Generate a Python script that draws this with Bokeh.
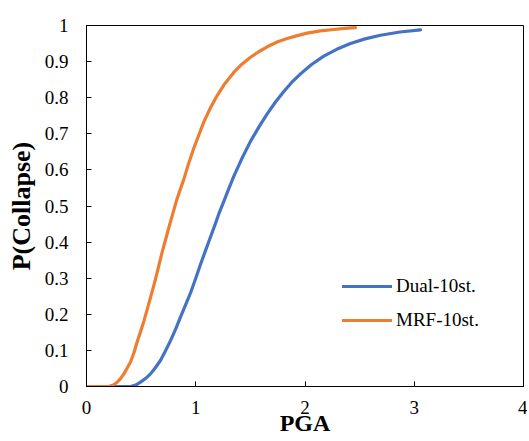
from bokeh.plotting import figure
from bokeh.models import FixedTicker, Range1d, Legend, LegendItem
from bokeh.embed import file_html
from bokeh.resources import INLINE

# Data
pga_dual = [0.0, 0.30, 0.403, 0.45, 0.494, 0.54, 0.586, 0.63, 0.677, 0.72, 0.769, 0.815,
            0.860, 0.905, 0.952, 1.0, 1.043, 1.09, 1.135, 1.175, 1.211, 1.257, 1.30, 1.348,
            1.42, 1.501, 1.58, 1.654, 1.73, 1.806, 1.88, 1.959, 2.06, 2.172, 2.29, 2.416,
            2.55, 2.691, 2.87, 3.057]
p_dual = [0.0, 0.0, 0.0, 0.004, 0.012, 0.022, 0.035, 0.052, 0.072, 0.097, 0.127, 0.158,
          0.192, 0.225, 0.259, 0.300, 0.338, 0.377, 0.414, 0.447, 0.478, 0.513, 0.546, 0.582,
          0.630, 0.679, 0.720, 0.755, 0.788, 0.817, 0.843, 0.866, 0.892, 0.915, 0.934, 0.950,
          0.963, 0.973, 0.982, 0.988]

pga_mrf = [0.0, 0.15, 0.204, 0.245, 0.281, 0.31, 0.342, 0.37, 0.403, 0.435, 0.464, 0.495,
           0.525, 0.555, 0.586, 0.617, 0.647, 0.693, 0.725, 0.754, 0.79, 0.824, 0.857, 0.89,
           0.935, 0.982, 1.03, 1.074, 1.135, 1.196, 1.257, 1.348, 1.42, 1.501, 1.58, 1.654,
           1.75, 1.837, 1.93, 2.02, 2.14, 2.264, 2.36, 2.462]
p_mrf = [0.0, 0.0, 0.0, 0.004, 0.012, 0.021, 0.035, 0.050, 0.068, 0.094, 0.124, 0.152,
         0.181, 0.213, 0.247, 0.281, 0.316, 0.373, 0.408, 0.441, 0.479, 0.515, 0.545, 0.573,
         0.618, 0.660, 0.698, 0.733, 0.772, 0.806, 0.835, 0.870, 0.892, 0.912, 0.928, 0.941,
         0.955, 0.964, 0.972, 0.979, 0.985, 0.989, 0.992, 0.994]

x_ticks = [0, 1, 2, 3, 4]
x_tick_labels = ["0", "1", "2", "3", "4"]
y_ticks = [0, 0.1, 0.2, 0.3, 0.4, 0.5, 0.6, 0.7, 0.8, 0.9, 1]
y_tick_labels = ["0", "0.1", "0.2", "0.3", "0.4", "0.5", "0.6", "0.7", "0.8", "0.9", "1"]
series_names = ["Dual-10st.", "MRF-10st."]
colors = ["#4472C4", "#ED7D31"]

FONT = "'Liberation Serif', 'Times New Roman', serif"

p = figure(width=527, height=441, output_backend="svg", toolbar_location=None,
           x_range=Range1d(0, 4), y_range=Range1d(0, 1),
           min_border_left=86, min_border_right=4, min_border_top=25, min_border_bottom=55)

r_dual = p.line(pga_dual, p_dual, line_color=colors[0], line_width=3.2,
                line_join="round", line_cap="round")
r_mrf = p.line(pga_mrf, p_mrf, line_color=colors[1], line_width=3.2,
               line_join="round", line_cap="round")

p.xgrid.visible = False
p.ygrid.visible = False
p.outline_line_color = "black"
p.outline_line_width = 1
p.background_fill_color = "white"
p.border_fill_color = "white"

p.xaxis.ticker = FixedTicker(ticks=x_ticks)
p.yaxis.ticker = FixedTicker(ticks=y_ticks)
p.xaxis.major_label_overrides = dict(zip(x_ticks, x_tick_labels))
p.yaxis.major_label_overrides = dict(zip(y_ticks, y_tick_labels))

for ax in (p.xaxis[0], p.yaxis[0]):
    ax.axis_line_color = "black"
    ax.axis_line_width = 1
    ax.major_tick_in = 5
    ax.major_tick_out = 0
    ax.minor_tick_in = 0
    ax.minor_tick_out = 0
    ax.major_tick_line_color = "black"
    ax.major_label_text_font = FONT
    ax.major_label_text_font_size = "19px"
    ax.major_label_text_color = "black"
    ax.axis_label_text_font = FONT
    ax.axis_label_text_font_style = "bold"
    ax.axis_label_text_color = "black"

p.xaxis.axis_label = "PGA"
p.yaxis.axis_label = "P(Collapse)"
p.xaxis.axis_label_text_font_size = "24px"
p.yaxis.axis_label_text_font_size = "26px"
p.xaxis.major_label_standoff = 14
p.yaxis.major_label_standoff = 18
p.xaxis.axis_label_standoff = -7
p.yaxis.axis_label_standoff = 6

legend = Legend(items=[LegendItem(label=series_names[0], renderers=[r_dual]),
                       LegendItem(label=series_names[1], renderers=[r_mrf])],
                location=(256, 55), orientation="vertical")
legend.border_line_color = None
legend.background_fill_alpha = 0
legend.padding = 0
legend.margin = 0
legend.glyph_width = 50
legend.glyph_height = 20
legend.label_height = 20
legend.spacing = 12
legend.label_standoff = 4
legend.label_text_font = FONT
legend.label_text_font_size = "19px"
legend.label_text_color = "black"
p.add_layout(legend, "center")

open("out.html", "w").write(file_html(p, INLINE))
